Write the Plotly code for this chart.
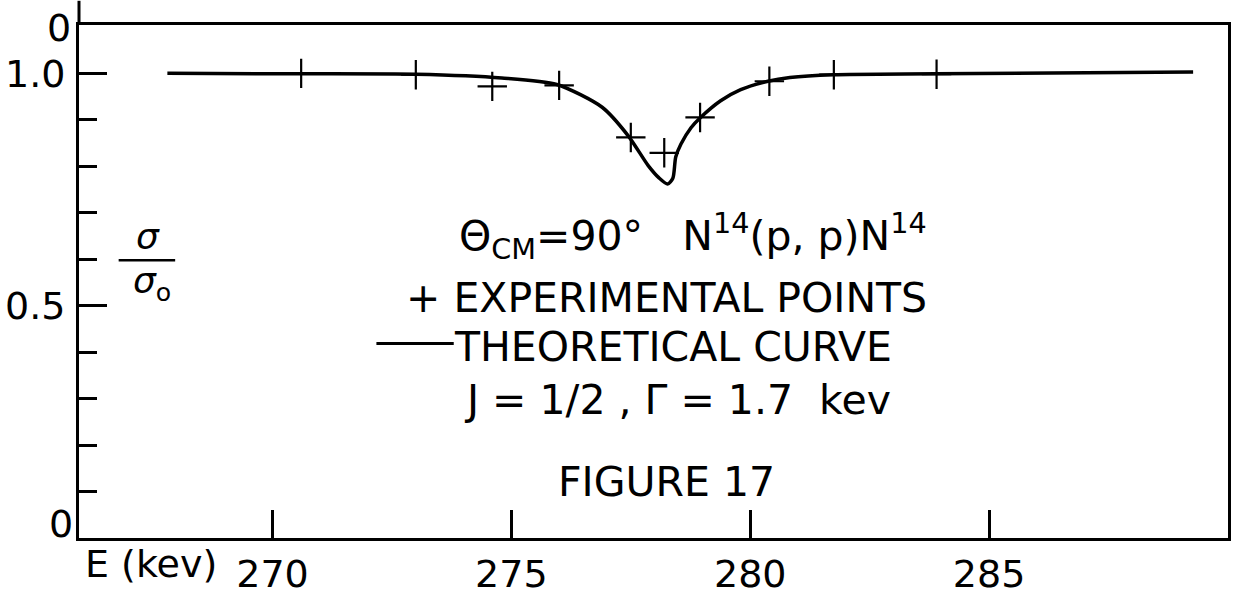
import plotly.graph_objects as go

# Theoretical resonance curve: sigma / sigma0 against proton energy (keV)
curve_energy = [267.8, 270.6, 273.0, 274.8, 275.95, 276.9, 277.45, 277.86, 278.09,
                278.27, 278.38, 278.44, 278.55, 278.76, 278.96, 279.38, 279.8,
                280.37, 280.83, 281.74, 283.88, 289.27]
curve_ratio = [1.0, 0.999, 0.998, 0.99, 0.976, 0.927, 0.865, 0.802, 0.775,
               0.762, 0.774, 0.82, 0.848, 0.883, 0.905, 0.941, 0.965,
               0.983, 0.991, 0.997, 0.999, 1.003]

# Measured points
exp_energy = [270.6, 273.0, 274.6, 276.0, 277.5, 278.2, 278.95, 280.4, 281.75, 283.9]
exp_ratio = [1.0, 0.997, 0.972, 0.974, 0.862, 0.829, 0.905, 0.983, 0.997, 0.998]

x_ticks = [270, 275, 280, 285]
x_tick_text = ["270", "275", "280", "285"]
y_ticks = [0.5, 1.0]
y_tick_text = ["0.5", "1.0"]
y_minor = [0.1, 0.2, 0.3, 0.4, 0.6, 0.7, 0.8, 0.9]

W, H = 1236, 601
L, R, T, B = 72, 5, 25, 46
FONT = "DejaVu Sans"
INK = "black"


def px(xpix):
    return (xpix - L) / (W - L - R)


def py(ypix):
    return (H - B - ypix) / (H - T - B)


fig = go.Figure()
fig.add_trace(go.Scatter(
    x=curve_energy, y=curve_ratio, mode="lines",
    line=dict(color=INK, width=3.5, shape="spline", smoothing=0.7),
    hoverinfo="skip", showlegend=False,
))
fig.add_trace(go.Scatter(
    x=exp_energy, y=exp_ratio, mode="markers",
    marker=dict(symbol="cross-thin", size=21, line=dict(color=INK, width=2.2)),
    showlegend=False,
))

annotations = []


def text(xpix, ypix, s, size=41, anchor="left"):
    annotations.append(dict(
        x=px(xpix), y=py(ypix), xref="paper", yref="paper", text=s,
        showarrow=False, xanchor=anchor, yanchor="middle",
        font=dict(family=FONT, size=size, color=INK),
    ))


text(52, 28, "0", size=38, anchor="center")
text(54, 541, "0", size=38, anchor="center")
text(76, 582, "E (kev)", size=38)
text(142, 244, "<i>σ</i>", size=36, anchor="center")
text(146, 292, "<i>σ</i><sub>o</sub>", size=36, anchor="center")
text(453, 243, "Θ<sub>CM</sub>=90°   N<sup>14</sup>(p, p)N<sup>14</sup>")
text(400, 307, "+ EXPERIMENTAL POINTS")
text(448, 358, "THEORETICAL CURVE")
text(458, 412, "J = 1/2 , Γ = 1.7  kev")
text(553, 497, "FIGURE 17")

shapes = [
    # sigma fraction bar
    dict(type="line", xref="paper", yref="paper", x0=px(112), x1=px(169),
         y0=py(268), y1=py(268), line=dict(color=INK, width=2.5)),
    # legend stroke for the theoretical curve
    dict(type="line", xref="paper", yref="paper", x0=px(372), x1=px(450),
         y0=py(354), y1=py(354), line=dict(color=INK, width=3)),
    # ordinate continuing into the panel above
    dict(type="line", xref="paper", yref="paper", x0=0, x1=0,
         y0=1, y1=py(0), line=dict(color=INK, width=3)),
]

fig.update_layout(
    width=W, height=H,
    margin=dict(l=L, r=R, t=T, b=B, pad=0),
    paper_bgcolor="white", plot_bgcolor="white",
    font=dict(family=FONT, color=INK),
    annotations=annotations, shapes=shapes,
    xaxis=dict(
        range=[265.95, 290.0], tickvals=x_ticks, ticktext=x_tick_text,
        ticks="inside", ticklen=28, tickwidth=2.5, tickcolor=INK,
        showline=True, linewidth=3, linecolor=INK, mirror=True,
        showgrid=False, zeroline=False,
        tickfont=dict(family=FONT, size=38, color=INK),
    ),
    yaxis=dict(
        range=[0, 1.104], tickvals=y_ticks, ticktext=y_tick_text,
        ticks="inside", ticklen=28, tickwidth=2.5, tickcolor=INK,
        minor=dict(tickvals=y_minor, ticks="inside", ticklen=18,
                   tickwidth=2.5, tickcolor=INK),
        showline=True, linewidth=3, linecolor=INK, mirror=True,
        showgrid=False, zeroline=False, ticklabelstandoff=3,
        tickfont=dict(family=FONT, size=38, color=INK),
    ),
)

fig.write_html("out.html")
